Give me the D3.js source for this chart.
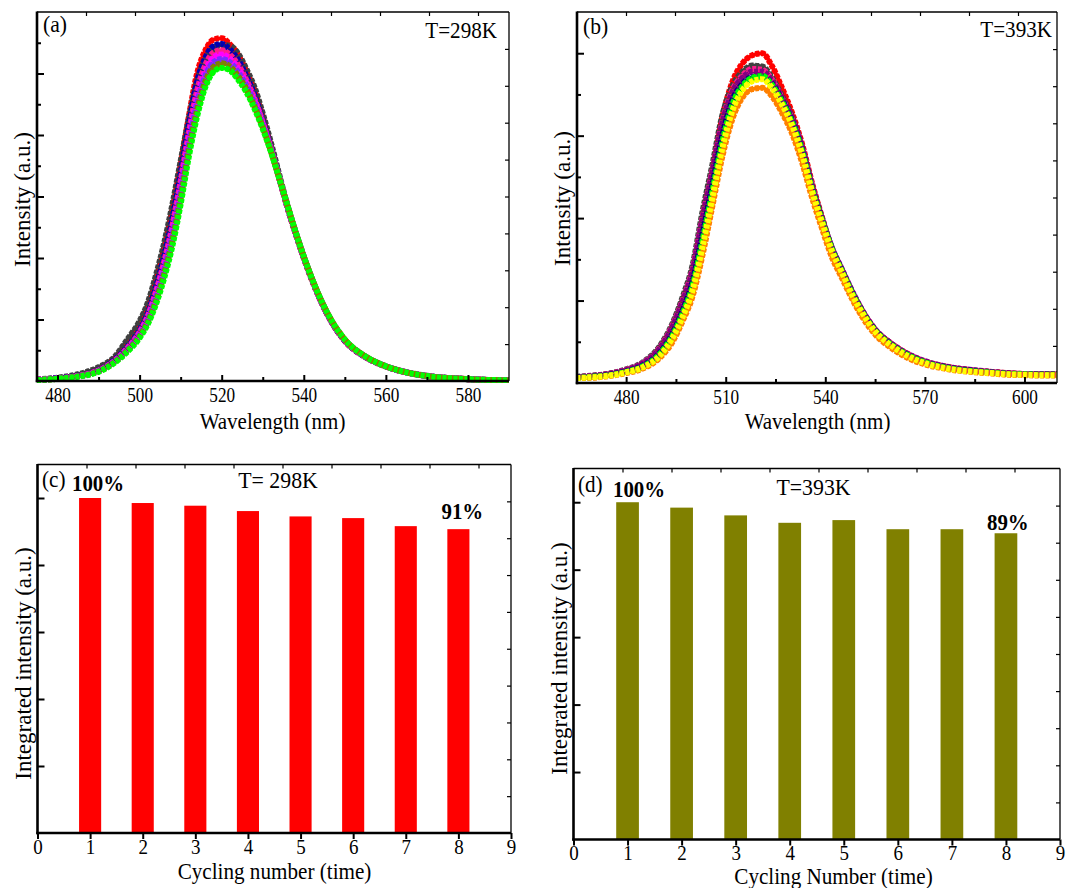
<!DOCTYPE html>
<html>
<head>
<meta charset="utf-8">
<script src="https://cdn.jsdelivr.net/npm/d3@7"></script>
<style>
  body { margin: 0; background: #fff; }
  text { font-family: "Liberation Serif", "Times New Roman", serif; fill: #000; }
</style>
</head>
<body>
<div id="chart"></div>
<script>
// ---- data ----
// (a) PL spectra at 298 K, 8 cycles
var waveA = [475,480,485,490,494,497,500,502,504,506,508,510,512,514,516,518,520,522,524,526,528,530,532,534,536,538,540,543,546,550,555,560,565,570,580,590];
var a_red     = [0.04,0.09,0.18,0.36,0.72,1.15,1.72,2.30,3.20,4.25,5.50,7.00,8.60,10.00,10.75,11.10,11.15,10.95,10.60,10.05,9.40,8.55,7.60,6.62,5.65,4.80,4.00,2.95,2.10,1.30,0.78,0.47,0.28,0.16,0.06,0.02];
var a_gray    = [0.05,0.11,0.22,0.45,0.80,1.35,1.95,2.55,3.45,4.50,5.75,7.15,8.55,9.75,10.45,10.80,10.93,10.90,10.65,10.15,9.55,8.70,7.75,6.72,5.72,4.85,4.05,2.98,2.12,1.32,0.79,0.48,0.29,0.17,0.06,0.02];
var a_blue    = [0.04,0.09,0.17,0.35,0.70,1.11,1.66,2.21,3.06,4.07,5.28,6.75,8.34,9.72,10.51,10.89,10.96,10.78,10.44,9.92,9.29,8.48,7.57,6.62,5.66,4.81,4.01,2.96,2.11,1.31,0.78,0.47,0.28,0.16,0.06,0.02];
var a_pink    = [0.04,0.08,0.16,0.34,0.67,1.07,1.59,2.12,2.92,3.89,5.06,6.50,8.08,9.44,10.27,10.68,10.76,10.61,10.28,9.79,9.18,8.41,7.54,6.61,5.68,4.82,4.02,2.97,2.12,1.32,0.79,0.47,0.28,0.16,0.06,0.02];
var a_magenta = [0.04,0.08,0.16,0.33,0.65,1.04,1.54,2.05,2.82,3.76,4.90,6.31,7.89,9.23,10.09,10.52,10.62,10.48,10.16,9.69,9.10,8.36,7.52,6.61,5.69,4.83,4.03,2.98,2.13,1.33,0.79,0.48,0.28,0.16,0.06,0.02];
var a_violet  = [0.03,0.08,0.15,0.32,0.64,1.01,1.50,1.99,2.71,3.62,4.73,6.13,7.69,9.02,9.91,10.37,10.47,10.36,10.04,9.60,9.02,8.30,7.50,6.61,5.70,4.83,4.04,2.99,2.14,1.34,0.80,0.48,0.28,0.16,0.06,0.02];
var a_olive   = [0.03,0.07,0.15,0.31,0.62,0.98,1.45,1.92,2.61,3.49,4.57,5.94,7.50,8.81,9.73,10.21,10.33,10.23,9.92,9.50,8.93,8.25,7.47,6.60,5.71,4.84,4.04,3.00,2.15,1.35,0.80,0.48,0.28,0.16,0.06,0.02];
var a_green   = [0.03,0.07,0.14,0.30,0.60,0.95,1.40,1.85,2.50,3.35,4.40,5.75,7.30,8.60,9.55,10.05,10.18,10.10,9.80,9.40,8.85,8.20,7.45,6.60,5.72,4.85,4.05,3.00,2.15,1.35,0.80,0.48,0.28,0.16,0.06,0.02];

// (b) PL spectra at 393 K, 8 cycles
var waveB = [465,470,475,480,485,490,494,497,500,503,506,509,512,515,518,521,524,527,530,533,536,539,542,545,548,551,555,560,565,570,575,580,585,590,595,600,605,610];
var b_red    = [0.14,0.17,0.22,0.31,0.45,0.80,1.35,1.95,2.70,3.95,5.15,6.45,7.30,7.75,7.95,8.00,7.68,7.15,6.55,5.80,4.85,4.02,3.25,2.72,2.20,1.77,1.30,0.95,0.70,0.52,0.42,0.35,0.30,0.27,0.24,0.22,0.22,0.21];
var b_gray   = [0.15,0.18,0.23,0.33,0.50,0.88,1.45,2.08,2.85,4.15,5.30,6.50,7.20,7.55,7.70,7.68,7.40,6.95,6.45,5.72,4.80,4.00,3.27,2.74,2.22,1.76,1.28,0.93,0.68,0.51,0.41,0.34,0.30,0.26,0.23,0.21,0.21,0.20];
var b_pink   = [0.14,0.17,0.22,0.32,0.48,0.84,1.40,2.00,2.75,4.00,5.15,6.35,7.10,7.45,7.62,7.60,7.35,6.90,6.40,5.70,4.78,3.96,3.26,2.74,2.22,1.77,1.29,0.94,0.69,0.52,0.41,0.34,0.30,0.26,0.23,0.22,0.21,0.20];
var b_purple = [0.14,0.17,0.22,0.31,0.47,0.82,1.36,1.96,2.70,3.95,5.10,6.30,7.05,7.40,7.55,7.55,7.32,6.90,6.42,5.72,4.78,3.98,3.28,2.76,2.24,1.78,1.30,0.95,0.70,0.53,0.42,0.35,0.31,0.27,0.24,0.22,0.22,0.21];
var b_navy   = [0.13,0.15,0.20,0.28,0.42,0.72,1.20,1.75,2.45,3.60,4.80,6.00,6.85,7.25,7.42,7.44,7.25,6.85,6.35,5.65,4.72,3.95,3.25,2.72,2.20,1.75,1.28,0.92,0.67,0.50,0.40,0.33,0.29,0.25,0.22,0.21,0.20,0.20];
var b_green  = [0.12,0.15,0.19,0.27,0.40,0.69,1.15,1.68,2.35,3.45,4.65,5.85,6.75,7.20,7.40,7.45,7.22,6.82,6.32,5.62,4.70,3.94,3.24,2.71,2.19,1.74,1.27,0.92,0.67,0.50,0.39,0.32,0.28,0.25,0.22,0.21,0.20,0.20];
var b_orange = [0.12,0.13,0.17,0.24,0.35,0.60,1.00,1.50,2.10,3.10,4.30,5.50,6.40,6.92,7.13,7.16,6.95,6.55,6.05,5.35,4.50,3.75,3.05,2.55,2.05,1.62,1.18,0.84,0.60,0.45,0.36,0.30,0.26,0.23,0.20,0.19,0.18,0.18];
var b_yellow = [0.12,0.14,0.18,0.26,0.38,0.65,1.10,1.60,2.25,3.30,4.50,5.70,6.60,7.10,7.32,7.37,7.15,6.75,6.25,5.55,4.65,3.90,3.20,2.68,2.15,1.72,1.25,0.90,0.65,0.48,0.38,0.31,0.27,0.24,0.21,0.20,0.19,0.19];

// (c),(d) integrated intensity per cycle (%)
var cycles = [1,2,3,4,5,6,7,8];
var barsC = [100, 98.5, 97.7, 96.1, 94.5, 94.0, 91.6, 90.7];
var barsD = [100, 98.4, 96.1, 93.9, 94.7, 92.0, 92.0, 90.8];

// tick values
var xTicksA = [480,500,520,540,560,580];
var xMinorA = [490,510,530,550,570];
var xTicksB = [480,510,540,570,600];
var xMinorB = [495,525,555,585];
var yMajorA = [2,4,6,8,10];
var yMinorA = [1,3,5,7,9,11];
var yMajorB = [2,4,6,8];
var yMinorB = [1,3,5,7];
var xTicksBar = [0,1,2,3,4,5,6,7,8,9];
var yTicksBar = [20,40,60,80,100];

// ---- page ----
var svg = d3.select("#chart").append("svg")
  .attr("width", 1088)
  .attr("height", 888);

function txt(str, x, y, size, o) {
  o = o || {};
  return svg.append("text")
    .attr("transform", "translate(" + x + "," + y + ")" + (o.rot ? " rotate(-90)" : "") + " scale(" + (o.sx || 1) + ",1)")
    .attr("text-anchor", o.anchor || "middle")
    .style("font-size", size + "px")
    .style("font-weight", o.bold ? "bold" : "normal")
    .text(str);
}

// frame: heavy left/bottom, light top/right, plus mirror ticks
function frame(box) {
  var g = svg.append("g");
  g.append("line").attr("x1", box.l).attr("x2", box.r).attr("y1", box.t).attr("y2", box.t)
    .attr("stroke", "#000").attr("stroke-width", 1.3);
  g.append("line").attr("x1", box.r).attr("x2", box.r).attr("y1", box.t).attr("y2", box.b)
    .attr("stroke", "#000").attr("stroke-width", 1.3);
  g.append("line").attr("x1", box.l).attr("x2", box.l).attr("y1", box.t - 0.6).attr("y2", box.b + 1.2)
    .attr("stroke", "#000").attr("stroke-width", 2.6);
  g.append("line").attr("x1", box.l - 1.2).attr("x2", box.r).attr("y1", box.b).attr("y2", box.b)
    .attr("stroke", "#000").attr("stroke-width", 2.6);

  // top mirror ticks (~49 px apart) and right mirror ticks (10 divisions)
  var topS = d3.scaleLinear().domain([0, (box.r - box.l) / 49]).range([box.l, box.r]);
  var rightS = d3.scaleLinear().domain([0, 10]).range([box.b, box.t]);
  g.append("g").attr("transform", "translate(0," + box.t + ")")
    .call(d3.axisBottom(topS).tickValues(d3.range(1, Math.floor(topS.domain()[1]) + 1)).tickSize(4).tickFormat(""))
    .call(s => s.select(".domain").remove())
    .call(s => s.selectAll("line").attr("stroke-width", 1.2));
  g.append("g").attr("transform", "translate(" + box.r + ",0)")
    .call(d3.axisLeft(rightS).tickValues(d3.range(1, 10)).tickSize(4).tickFormat(""))
    .call(s => s.select(".domain").remove())
    .call(s => s.selectAll("line").attr("stroke-width", 1.2));
}

function spectrumPanel(box, xDom, yDom, waves, series, xTicks, xMinor, yMajor, yMinor) {
  var x = d3.scaleLinear().domain(xDom).range([box.l, box.r]);
  var y = d3.scaleLinear().domain(yDom).range([box.b, box.t]);

  var clipId = "clip" + Math.round(box.l);
  svg.append("clipPath").attr("id", clipId).append("rect")
    .attr("x", box.l).attr("y", box.t).attr("width", box.r - box.l).attr("height", box.b - box.t + 2);

  var line = d3.line()
    .x((d, i) => x(waves[i]))
    .y(d => y(d))
    .curve(d3.curveMonotoneX);

  // dense symbol-like band: thick dashed stroke over a thinner solid one
  var g = svg.append("g").attr("clip-path", "url(#" + clipId + ")");
  g.selectAll("path.base")
    .data(series)
    .enter()
    .append("path")
    .attr("class", "base")
    .attr("d", d => line(d.values))
    .attr("fill", "none")
    .attr("stroke", d => d.color)
    .attr("stroke-width", 4)
    .attr("stroke-linejoin", "round");
  g.selectAll("path.beads")
    .data(series)
    .enter()
    .append("path")
    .attr("class", "beads")
    .attr("d", d => line(d.values))
    .attr("fill", "none")
    .attr("stroke", d => d.color)
    .attr("stroke-width", 6)
    .attr("stroke-dasharray", "4 1.5");

  frame(box);

  // bottom axis, ticks inward
  svg.append("g").attr("transform", "translate(0," + box.b + ")")
    .call(d3.axisBottom(x).tickValues(xTicks).tickSizeInner(-6).tickSizeOuter(0).tickPadding(0))
    .call(s => s.select(".domain").remove())
    .call(s => s.selectAll("line").attr("stroke-width", 2))
    .call(s => s.selectAll("text")
      .attr("y", 21).attr("dy", 0)
      .attr("transform", "scale(0.86,1)")
      .style("font-size", "20px")
      .style("font-family", "Liberation Serif, serif"));
  svg.append("g").attr("transform", "translate(0," + box.b + ")")
    .call(d3.axisBottom(x).tickValues(xMinor).tickSizeInner(-4).tickSizeOuter(0).tickFormat(""))
    .call(s => s.select(".domain").remove())
    .call(s => s.selectAll("line").attr("stroke-width", 2));

  // left axis, inward ticks, no labels
  svg.append("g").attr("transform", "translate(" + box.l + ",0)")
    .call(d3.axisRight(y).tickValues(yMajor).tickSize(7).tickFormat(""))
    .call(s => s.select(".domain").remove())
    .call(s => s.selectAll("line").attr("stroke-width", 2));
  svg.append("g").attr("transform", "translate(" + box.l + ",0)")
    .call(d3.axisRight(y).tickValues(yMinor).tickSize(4).tickFormat(""))
    .call(s => s.select(".domain").remove())
    .call(s => s.selectAll("line").attr("stroke-width", 2));
}

function barPanel(box, values, color) {
  var x = d3.scaleLinear().domain([0, 9]).range([box.l, box.r]);
  var y = d3.scaleLinear().domain([0, 110]).range([box.b, box.t]);
  var bw = x(0.42) - x(0);

  svg.append("g").selectAll("rect")
    .data(values)
    .enter()
    .append("rect")
    .attr("x", (d, i) => x(cycles[i]) - bw / 2)
    .attr("y", d => y(d))
    .attr("width", bw)
    .attr("height", d => y(0) - y(d))
    .attr("fill", color);

  frame(box);

  svg.append("g").attr("transform", "translate(0," + box.b + ")")
    .call(d3.axisBottom(x).tickValues(xTicksBar).tickSizeInner(6).tickSizeOuter(0).tickPadding(0))
    .call(s => s.select(".domain").remove())
    .call(s => s.selectAll("line").attr("stroke-width", 2))
    .call(s => s.selectAll("text")
      .attr("y", 21).attr("dy", 0)
      .attr("transform", "scale(0.95,1)")
      .style("font-size", "20px")
      .style("font-family", "Liberation Serif, serif"));

  svg.append("g").attr("transform", "translate(" + box.l + ",0)")
    .call(d3.axisRight(y).tickValues(yTicksBar).tickSize(7).tickFormat(""))
    .call(s => s.select(".domain").remove())
    .call(s => s.selectAll("line").attr("stroke-width", 2));
}

// ---- panel (a) ----
var boxA = { l: 37, t: 12, r: 509, b: 381 };
spectrumPanel(boxA, [475, 590], [0, 12], waveA, [
  { color: "#ff0000", values: a_red },
  { color: "#404040", values: a_gray },
  { color: "#0000b0", values: a_blue },
  { color: "#ff1a8c", values: a_pink },
  { color: "#ff00ff", values: a_magenta },
  { color: "#7a2cff", values: a_violet },
  { color: "#808000", values: a_olive },
  { color: "#00ff00", values: a_green }
], xTicksA, xMinorA, yMajorA, yMinorA);
txt("(a)", 43, 32, 24, { anchor: "start", sx: 0.9 });
txt("T=298K", 497, 38, 24, { anchor: "end", sx: 0.88 });
txt("Wavelength (nm)", 272.5, 429, 24, { sx: 0.875 });
txt("Intensity (a.u.)", 30, 199.5, 23, { rot: true });

// ---- panel (b) ----
var boxB = { l: 577, t: 12, r: 1057, b: 383 };
spectrumPanel(boxB, [465.2, 609.8], [0, 9], waveB, [
  { color: "#ff0000", values: b_red },
  { color: "#404040", values: b_gray },
  { color: "#ff1a8c", values: b_pink },
  { color: "#800080", values: b_purple },
  { color: "#000080", values: b_navy },
  { color: "#00ff00", values: b_green },
  { color: "#ff8000", values: b_orange },
  { color: "#ffff00", values: b_yellow }
], xTicksB, xMinorB, yMajorB, yMinorB);
txt("(b)", 583, 34, 24, { anchor: "start", sx: 0.9 });
txt("T=393K", 1052, 37, 24, { anchor: "end", sx: 0.88 });
txt("Wavelength (nm)", 817.5, 429, 24, { sx: 0.875 });
txt("Intensity (a.u.)", 570, 198.5, 23, { rot: true });

// ---- panel (c) ----
var boxC = { l: 37.5, t: 464.5, r: 511, b: 833 };
barPanel(boxC, barsC, "#ff0000");
txt("(c)", 42, 487, 23, { anchor: "start", sx: 0.92 });
txt("100%", 72, 491, 24, { anchor: "start", bold: true, sx: 0.87 });
txt("T= 298K", 278, 488, 23, { sx: 0.95 });
txt("91%", 441.5, 519, 24, { anchor: "start", bold: true, sx: 0.87 });
txt("Cycling number (time)", 274.5, 879, 23, { sx: 0.92 });
txt("Integrated intensity (a.u.)", 31, 663.5, 23, { rot: true });

// ---- panel (d) ----
var boxD = { l: 573.5, t: 468.5, r: 1060, b: 839.5 };
barPanel(boxD, barsD, "#808000");
txt("(d)", 578, 492, 23, { anchor: "start", sx: 0.92 });
txt("100%", 613, 497, 24, { anchor: "start", bold: true, sx: 0.87 });
txt("T=393K", 813.5, 495, 23, { sx: 0.95 });
txt("89%", 987, 530, 24, { anchor: "start", bold: true, sx: 0.87 });
txt("Cycling Number (time)", 833.5, 884, 23, { sx: 0.92 });
txt("Integrated intensity (a.u.)", 567, 658.5, 23, { rot: true });
</script>
</body>
</html>
